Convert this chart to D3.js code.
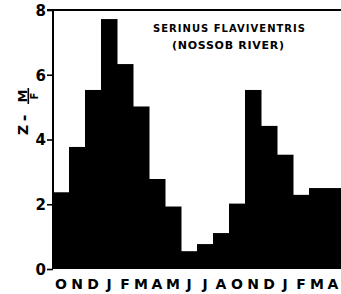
<!DOCTYPE html>
<html>
<head>
<meta charset="utf-8">
<script src="https://cdn.jsdelivr.net/npm/d3@7"></script>
<style>
  html, body { margin: 0; padding: 0; background: #fff; }
  svg { display: block; }
  text { font-family: "DejaVu Sans", sans-serif; font-weight: bold; fill: #000; }
</style>
</head>
<body>
<svg id="chart" width="341" height="294"></svg>
<script>
// Data
const months = ["O","N","D","J","F","M","A","M","J","J","A","S","O","N","D","J","F","M"];
const monthLabels = ["O","N","D","J","F","M","A","M","J","J","A","O","N","D","J","F","M","A"];
const values = [2.37, 3.77, 5.53, 7.72, 6.33, 5.02, 2.78, 1.93, 0.55, 0.77, 1.11, 2.02, 5.53, 4.42, 3.53, 2.29, 2.5, 2.5];
const yTicks = [0, 2, 4, 6, 8];
const titleLines = ["SERINUS FLAVIVENTRIS", "(NOSSOB  RIVER)"];

const svg = d3.select("#chart");
const mLeft = 53, mRight = 341, mTop = 10, mBottom = 269;

const x = d3.scaleBand().domain(d3.range(values.length)).range([mLeft, mRight]).padding(0);
const y = d3.scaleLinear().domain([0, 8]).range([mBottom, mTop]);

// Bars
svg.append("g").selectAll("rect").data(values).join("rect")
  .attr("x", (d, i) => x(i))
  .attr("y", d => y(d))
  .attr("width", x.bandwidth() + 0.5)
  .attr("height", d => y(0) - y(d))
  .attr("fill", "#000");

// Y axis
const yAxis = d3.axisLeft(y).tickValues(yTicks).tickSize(6).tickPadding(1).tickFormat(d3.format("d"));
const gy = svg.append("g").attr("transform", `translate(${mLeft},0)`).call(yAxis);
gy.select(".domain").attr("stroke", "#000").attr("stroke-width", 2).attr("d", `M0,${mTop}V${mBottom}`);
gy.selectAll(".tick line").attr("stroke", "#000").attr("stroke-width", 1.6);
gy.selectAll(".tick text")
  .style("font-family", "'DejaVu Sans', sans-serif")
  .style("font-weight", "bold")
  .style("font-size", "15px")
  .attr("dy", "0.35em")
  .attr("fill", "#000");

// Top border
svg.append("line")
  .attr("x1", mLeft - 6).attr("x2", mRight)
  .attr("y1", y(8)).attr("y2", y(8))
  .attr("stroke", "#000").attr("stroke-width", 2);

// X labels
svg.append("g").selectAll("text").data(monthLabels).join("text")
  .attr("x", (d, i) => x(i) + x.bandwidth() / 2)
  .attr("y", 289)
  .attr("text-anchor", "middle")
  .style("font-size", "14px")
  .text(d => d);

// Title
svg.append("text")
  .attr("x", 153).attr("y", 32)
  .attr("textLength", 152).attr("lengthAdjust", "spacing")
  .style("font-size", "10px").style("font-weight", "bold")
  .text(titleLines[0]);
svg.append("text")
  .attr("x", 172).attr("y", 49)
  .attr("textLength", 112).attr("lengthAdjust", "spacing")
  .style("font-size", "11px").style("font-weight", "bold")
  .text(titleLines[1]);

// Y label: Z - M/F (rotated)
const yl = svg.append("g").attr("transform", "rotate(-90)");
yl.append("text").attr("x", -130).attr("y", 28).attr("text-anchor", "middle").style("font-size", "14px").text("Z");
yl.append("text").attr("x", -118).attr("y", 29).attr("text-anchor", "middle").style("font-size", "16px").text("-");
yl.append("text").attr("x", -96).attr("y", 26.5).attr("text-anchor", "middle").style("font-size", "13px").text("M");
yl.append("text").attr("x", -96).attr("y", 37.5).attr("text-anchor", "middle").style("font-size", "10px").text("F");
svg.append("line").attr("x1", 28.3).attr("x2", 28.3).attr("y1", 88).attr("y2", 104)
  .attr("stroke", "#000").attr("stroke-width", 1.6);
</script>
</body>
</html>
